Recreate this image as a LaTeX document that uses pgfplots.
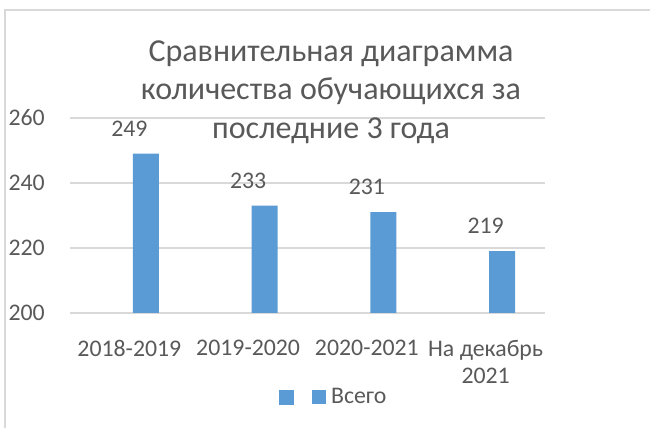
\documentclass[border=0pt]{standalone}
\usepackage{fontspec}
\setmainfont{Carlito}
\usepackage{pgfplots}
\pgfplotsset{compat=1.18}
\definecolor{barblue}{HTML}{5B9BD5}
\definecolor{txt}{HTML}{595959}
\definecolor{gridc}{HTML}{D9D9D9}
\begin{document}
\begin{tikzpicture}[x=1pt,y=1pt]
\useasboundingbox (0,0) rectangle (650,428);
\draw[gridc, line width=1.3pt] (5,0) -- (5,418) -- (650,418);
\begin{axis}[
  at={(70pt,115pt)}, anchor=south west,
  width=475pt, height=195pt, scale only axis,
  ymin=200, ymax=260, ytick={200,220,240,260},
  xmin=-0.5, xmax=3.5, xtick={0,1,2,3},
  xticklabels={2018-2019,2019-2020,2020-2021,{На декабрь\\2021}},
  /pgf/number format/assume math mode=true,
  axis line style={draw=none},
  major tick length=0pt,
  ymajorgrids, major grid style={gridc, line width=1.2pt},
  tick label style={text=txt, font=\fontsize{23.8}{27.5}\selectfont},
  xticklabel style={align=center, anchor=north, inner sep=0pt, yshift=-27pt},
  yticklabel style={anchor=east, inner sep=0pt, xshift=-25pt},
  clip=false,
  legend image code/.code={\fill[barblue] (0pt,-7pt) rectangle (14pt,7pt);},
  legend style={at={(0.558,-0.431)}, anchor=center, draw=none, fill=none,
    font=\fontsize{23.8}{27.5}\selectfont, text=txt, nodes={inner sep=5pt},
    /tikz/every even column/.append style={column sep=9pt}},
  legend columns=2,
]
\addlegendimage{fill=barblue}
\addlegendentry{}
\addplot[ybar, bar width=26pt, bar shift=16.6pt, fill=barblue, draw=none,
  nodes near coords,
  every node near coord/.append style={anchor=base, yshift=17.5pt, text=txt, font=\fontsize{23.8}{27.5}\selectfont}]
  coordinates {(0,249) (1,233) (2,231) (3,219)};
\addlegendentry{Всего}
\end{axis}
\node[anchor=base, font=\fontsize{32}{38}\selectfont, text=txt] at (331,366) {Сравнительная диаграмма};
\node[anchor=base, font=\fontsize{32}{38}\selectfont, text=txt] at (331,328) {количества обучающихся за};
\node[anchor=base, font=\fontsize{32}{38}\selectfont, text=txt] at (331,289) {последние 3 года};
\end{tikzpicture}
\end{document}
